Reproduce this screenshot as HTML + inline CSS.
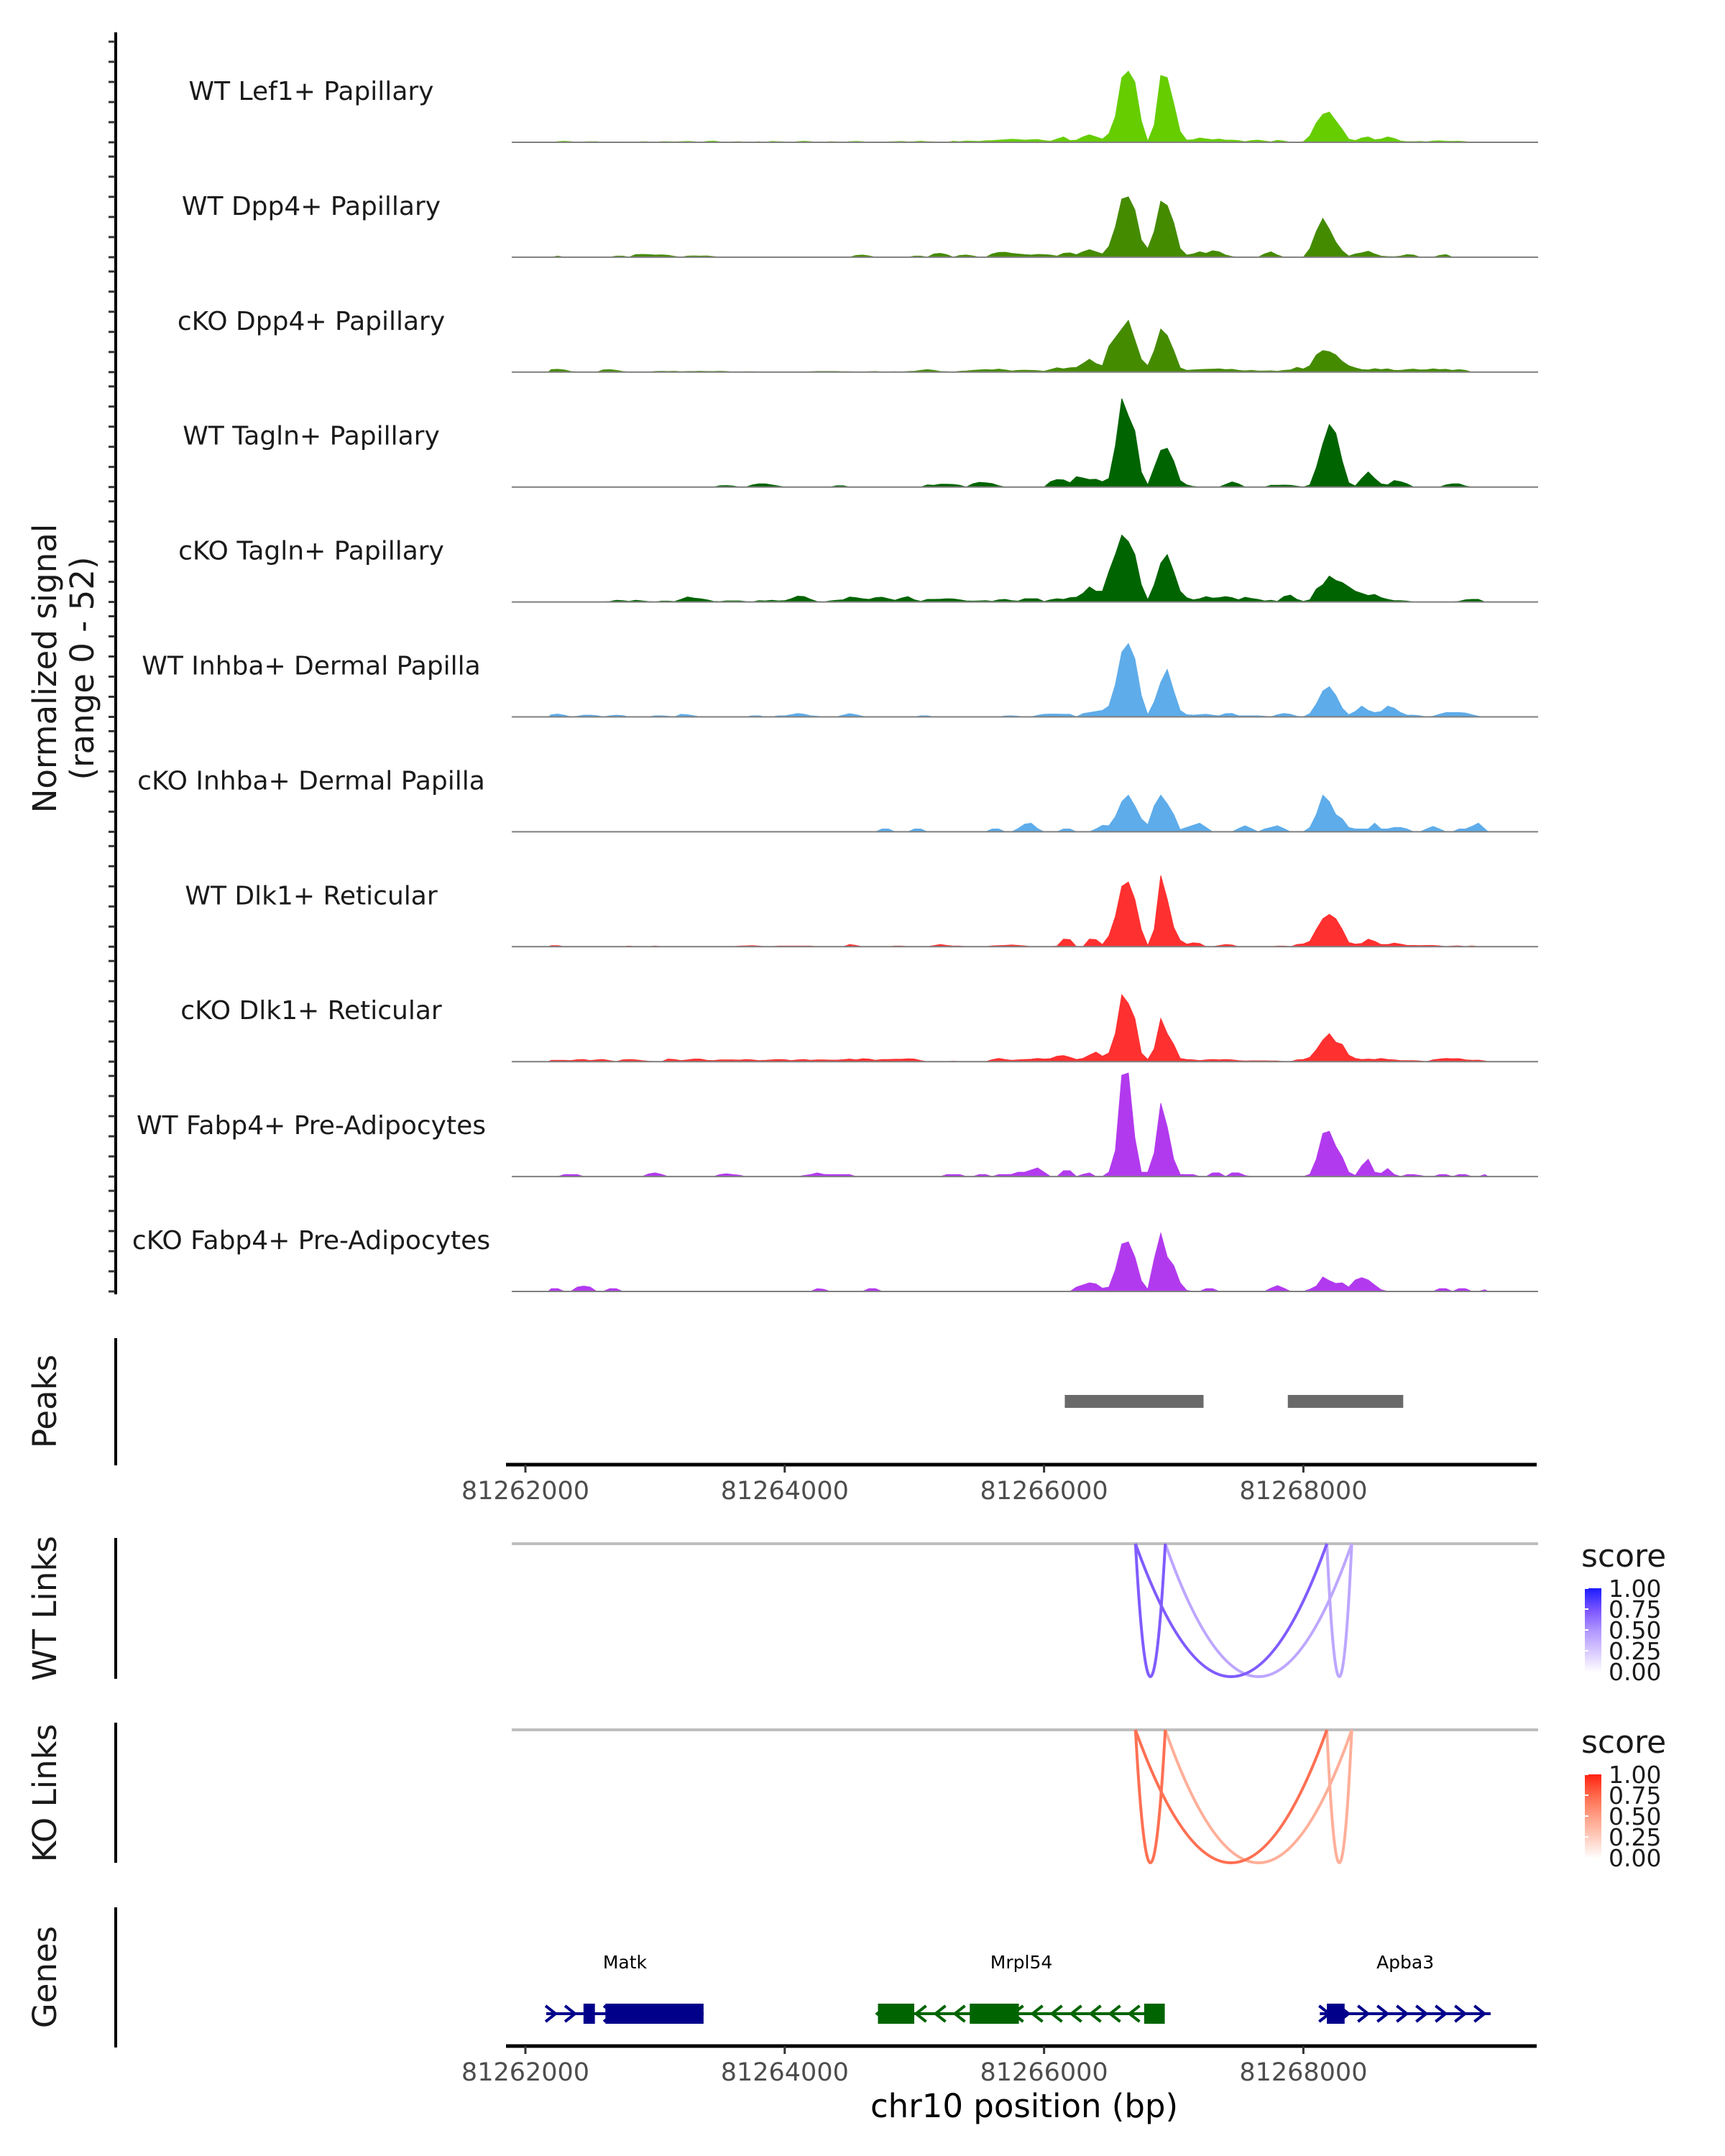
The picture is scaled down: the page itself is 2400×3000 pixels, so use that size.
<!DOCTYPE html>
<html><head><meta charset="utf-8"><style>
html,body{margin:0;padding:0;background:#fff;}
svg{display:block;font-family:"DejaVu Sans","Liberation Sans",sans-serif;}
</style></head><body>
<svg id="chart" width="2400" height="3000" viewBox="0 0 2400 3000" xmlns="http://www.w3.org/2000/svg">
<rect width="2400" height="3000" fill="#fff"/>
<g id="tracks"></g>
<g id="yaxis"></g>
<text font-size="45" text-anchor="middle" fill="#1a1a1a" transform="translate(78,930) rotate(-90)"><tspan x="0" dy="0">Normalized signal</tspan><tspan x="0" dy="52">(range 0 - 52)</tspan></text>
<g id="peaks"></g>
<g id="links"></g>
<g id="genes"></g>
</svg>
<script>
const NS="http://www.w3.org/2000/svg";
const trackNames=["WT Lef1+ Papillary","WT Dpp4+ Papillary","cKO Dpp4+ Papillary","WT Tagln+ Papillary","cKO Tagln+ Papillary","WT Inhba+ Dermal Papilla","cKO Inhba+ Dermal Papilla","WT Dlk1+ Reticular","cKO Dlk1+ Reticular","WT Fabp4+ Pre-Adipocytes","cKO Fabp4+ Pre-Adipocytes"];
const trackColors=["#66cd00","#458b00","#458b00","#006400","#006400","#5eacea","#5eacea","#ff3030","#ff3030","#b23aee","#b23aee"];
const binStart=81262200, binSize=50;
const sLef1WT=[0,0.3,0.5,0.3,0,0.2,0.3,0.3,0,0, 0,0,0.2,0,0.3,0.2,0,0.3,0.3,0.2, 0.3,0.4,0.3,0,0.4,0.6,0.2,0,0.2,0.3, 0,0,0.3,0,0.4,0.3,0.2,0,0.3,0.5, 0.3,0,0,0.3,0.2,0,0.3,0.4,0.3,0, 0,0,0.2,0.3,0.4,0.2,0.3,0.5,0.3,0.2, 0,0,0.5,0.3,0.6,0.5,0.4,0.7,0.8,1.0, 1.2,1.4,1.3,1.0,1.2,1.3,0.8,0.5,1.5,2.5, 0.8,1.0,2.5,3.5,2.5,1.5,4,12,30,33, 28,10,0.5,8,31,30,18,5,1,1.2, 2,1.6,1.2,1.5,1,1,0.8,0.3,0.8,1, 0.6,0.2,0.9,0.6,0,0,0.3,3,9,13, 14,10,6,1.5,0.8,2,2.5,1.2,1.5,2.5, 1.8,0.6,0.3,0.3,0.4,0.2,0.6,0.7,0.5,0.4, 0.5,0.3,0,0,0];
const sDpp4WT=[0,0.5,0,0,0,0,0,0,0,0, 0.5,0.5,0,1.2,1.3,1.2,1.0,1.1,0.9,0.4, 0,0.5,0.6,0.5,0.6,0.3,0,0,0,0, 0,0,0,0,0,0,0,0,0,0, 0,0,0,0,0,0,0,0.8,1.0,0.6, 0,0,0,0,0,0,0.5,0.5,0,1.5, 1.8,1.2,0,0.8,1.0,0.6,0,0,1.5,2.2, 2.3,1.8,1.5,1.2,1.0,1.3,1.2,1.0,0.5,1.8, 2.0,1.2,2.5,3.5,2.5,1.5,5,14,27,28, 22,8,4,12,26,24,16,4,1,1.5, 2.5,1.8,3,2.5,1,0.3,0,0,0,0, 1.5,2.5,1,0,0,0,0,4,12,18, 13,7,3,0.5,1.5,2,2.8,1.5,0.5,0.3, 0.2,0.5,1.2,1.0,0,0,0,0.8,1.2,0, 0,0,0,0,0];
const sDpp4KO=[1.2,1.3,1.0,0.3,0,0,0,0,1.0,1.2, 0.8,0.3,0,0,0,0,0.3,0.4,0.3,0.4, 0.2,0.3,0.3,0.4,0.3,0.3,0.4,0.3,0,0, 0.2,0.2,0,0,0,0,0,0,0,0, 0.2,0.3,0.3,0.3,0.3,0.2,0.2,0,0,0.2, 0.3,0,0,0.2,0,0.3,0.4,0.8,1.2,0.8, 0.3,0.2,0,0.4,0.5,0.8,1.0,1.2,1.0,1.4, 1.0,0.5,0.8,0.9,0.8,0.7,0.4,1.2,2.0,1.5, 2.0,2.2,4,6,4,3,12,16,20,24, 15,6,3,10,20,17,10,2,0.8,1.0, 1.2,1.3,1.4,1.5,1.2,1.3,0.8,0.6,0.8,0.5, 0.5,0.6,0.4,0.8,1.0,2.2,1.5,3,8,10, 9.5,8,5,3,2,1.2,1.0,1.6,1.2,1.5, 0.8,0.8,1.2,1.4,1.0,1.1,1.5,1.2,1.3,0.8, 1.2,0.8,0,0,0];
const sTaglnWT=[0,0,0,0,0,0,0,0,0,0, 0,0,0,0,0,0,0,0,0,0, 0,0,0,0,0,0,0.6,0.7,0.5,0, 0,1.0,1.5,1.5,1.0,0.5,0,0,0,0, 0,0,0,0,0.6,0.6,0,0,0,0, 0,0,0,0,0,0,0,0,1.0,0.8, 1.3,1.3,1.2,0.8,0,1.5,2.2,2.0,1.6,0.6, 0,0,0,0,0,0,0,2.5,3.5,3.3, 2.0,4.8,4.2,3.5,3.6,2.5,4,19,41,33, 26,7,1,9,17,18,12,3,1,0.3, 0,0,0,0,1.2,2.4,1.5,0,0,0, 0,0.8,0.8,0.9,0.8,0.4,0,1,9,20, 29,25,12,2,0.5,4,7,4,1.5,1.0, 3,2.5,1.5,0,0,0,0,0,1.0,1.5, 1.5,0.5,0,0,0];
const sTaglnKO=[0,0,0,0,0,0,0,0,0,0.2, 0.8,0.6,0.3,0.8,0.5,0.2,0,0.4,0.4,0.2, 1.2,2.3,1.8,1.5,1.0,0.3,0.2,0.5,0.5,0.5, 0.2,0,0.6,0.5,0.8,0.5,0.6,1.5,2.7,2.5, 1.2,0.2,0,0.5,0.8,1.0,2.3,2.0,1.5,1.2, 2.0,2.2,1.5,0.8,1.8,2.5,1.0,0.3,1.2,1.2, 1.3,1.5,1.4,1.0,0.5,0.4,0.5,0.6,0.3,1.0, 1.2,0.6,0.4,1.5,1.5,1.5,0.2,1.0,1.5,1.2, 2.0,2.2,4,7,5,5,14,22,31,28, 22,8,1,8,18,22,14,5,2,1, 1.5,2.5,1.8,2,2.5,2,1,2.2,1.6,1.2, 0.5,0.8,0.3,2.5,3.2,1.2,0.3,1,6,8, 12,10,9,7,5,4,3,3.5,2,1.2, 0.6,0.6,0.4,0,0,0,0,0,0,0, 0.3,1.0,1.2,1.2,0];
const sInhbaWT=[1.0,1.3,0.8,0,0.3,0.8,0.8,0.6,0,0.5, 0.8,0.6,0,0,0,0,0.5,0.5,0.3,0, 1.2,1.0,0.5,0,0,0,0,0,0,0, 0,0.5,0.5,0,0,0.5,0.5,1.0,1.6,1.2, 0.5,0.3,0,0,0,0.8,1.5,1.0,0.3,0, 0,0,0,0,0,0,0,0.5,0.5,0, 0,0,0,0,0,0,0,0,0,0, 0.4,0.5,0.3,0,0,0.7,1.2,1.3,1.3,1.2, 1.2,0,1.5,2.0,2.5,3,5,15,30,34, 27,10,1,7,16,22,12,3,1,0.8, 1.0,1.2,0.8,0.5,1.5,1.6,0.5,0.5,0.5,0.5, 0.3,0,1.0,1.6,1.2,0.3,0,1.5,6,12, 14,10,4,1,2.5,5,3,2,2.5,5, 4,2,0.8,0.8,0.5,0,0.3,1.2,2,2, 2,1.8,1.0,0.3,0];
const sInhbaKO=[0,0,0,0,0,0,0,0,0,0, 0,0,0,0,0,0,0,0,0,0, 0,0,0,0,0,0,0,0,0,0, 0,0,0,0,0,0,0,0,0,0, 0,0,0,0,0,0,0,0,0,0, 0,1.3,1.3,0,0,0,1.3,1.3,0,0, 0,0,0,0,0,0,0,0,1.3,1.3, 0,0,1.5,3.5,4,1.5,0,0,0,1.3, 1.3,0,0,0,1.3,3,2.8,7,14,17, 12,6,3.3,12,17,13,8,1,2,3, 4,2,0,0,0,0,1.5,2.8,1.5,0, 1.3,2.0,2.8,1.5,0,0,0,2,8,17, 14,8,6,2,1.3,1.3,1.3,4,1.3,1.3, 2.0,2.0,1.3,0,0,1.3,2.5,1.3,0,0, 1.3,1.3,2.5,4,1.3];
const sDlk1WT=[0.5,0.5,0,0,0,0,0,0,0,0, 0,0,0.3,0,0,0,0.3,0,0,0, 0,0,0,0,0,0,0,0,0,0.3, 0.4,0.5,0.3,0,0,0.3,0.3,0.3,0.3,0.3, 0.3,0,0,0,0,0,1.0,0.6,0,0, 0,0,0,0.3,0.3,0,0,0,0,0.5, 1.0,0.6,0.3,0.3,0,0,0,0,0.4,0.5, 0.6,0.8,0.6,0.4,0,0,0,0,0.3,3.5, 3.3,0,0,3.5,3.3,1,5,14,28,30, 22,8,0.5,8,33,22,9,3,1.2,1.8, 1.5,0,0,0.5,1.0,0.8,0,0,0,0, 0,0,0.3,0.3,0,1.0,1.3,2.5,8,13, 15,13,8,2,1.2,1.5,3.5,2.5,1.0,1.0, 1.7,1.2,0.6,0.6,0.5,0.6,0.6,0.4,0,0.3, 0.4,0,0.4,0,0];
const sDlk1KO=[0.6,0.6,0.6,0.5,0.9,1.0,0.5,0.8,1.0,0.5, 0,0.8,1.0,0.8,0.5,0.2,0,0,1.2,1.0, 0.5,0.8,1.2,1.2,0.6,0.5,0.8,0.8,0.8,0.7, 1.0,0.8,0.5,0.6,0.8,1.0,0.9,0.5,0.8,1.0, 0.6,0.8,0.8,0.7,0.7,0.9,1.2,0.8,1.3,1.2, 0.6,1.0,1.0,1.1,1.1,1.3,1.2,0.5,0,0, 0,0,0.2,0,0,0,0,0,0.9,1.5, 1.0,0.6,0.8,1.0,1.1,1.5,1.2,1.4,2.5,2.8, 2.0,1.0,1.5,3,4.4,2.5,4,13,31,27, 20,4,1,6,20,13,8,1.5,1,0.8, 0.5,0.8,1.0,0.8,1.0,0.8,0.5,0.3,0.4,0.4, 0.4,0.3,0.3,0,0,0.8,1.0,2,5.5,10, 13,9,8,3,1.5,1.0,1.2,1.0,1.5,1.0, 0.8,0.5,0.5,0.5,0.3,0,0.8,1.2,1.5,1.3, 1.4,0.8,0.6,0.7,0.3];
const sFabp4WT=[0,0,0.9,0.9,0.9,0,0,0,0,0, 0,0,0,0,0,1.2,1.7,1.0,0,0, 0,0,0,0,0,0,0.9,1.3,0.9,0.6, 0,0,0,0,0,0,0,0,0,0.5, 0.9,1.7,1.0,0.9,0.9,0.9,0.9,0,0,0, 0,0,0,0,0,0,0,0,0,0, 0,0.9,0.9,0.9,0,0,0.9,0.9,0,0.9, 0.9,1.0,2.0,2.0,3.0,4.0,2.0,0,0,2.7, 2.7,0,1.0,1.7,0,0,2,12,47,48, 18,2,2,11,34,23,8,1,0.9,0.9, 0,0,1.7,1.7,0,1.7,1.7,0.5,0,0, 0,0,0,0,0,0,0,1,8,20, 21,14,9,2,0.5,5,8,2,1.5,3.7, 1,0,0.9,0.9,0.5,0,0,0.9,0.9,0, 0.9,0.9,0,0,0.9];
const sFabp4KO=[1.3,1.3,0,0,2.0,2.5,2.0,0,0,1.3, 1.3,0,0,0,0,0,0,0,0,0, 0,0,0,0,0,0,0,0,0,0, 0,0,0,0,0,0,0,0,0,0, 0,1.3,1.0,0,0,0,0,0,0,1.3, 1.3,0,0,0,0,0,0,0,0,0, 0,0,0,0,0,0,0,0,0,0, 0,0,0,0,0,0,0,0,0,0, 0,2,3,4,3.5,1.5,2,10,22,23, 16,5,1,15,27,16,12,4,0.5,0, 0,1.3,1.3,0,0,0,0,0,0,0, 0,1.5,2.7,1.5,0,0,0,1,2.5,6.7, 5,3.7,4,2,5.3,6.4,5.3,3,0.8,0, 0,0,0,0,0,0,0,1.3,1.3,0, 1.3,1.3,0,0,0.8];
const trackSeries=[sLef1WT,sDpp4WT,sDpp4KO,sTaglnWT,sTaglnKO,sInhbaWT,sInhbaKO,sDlk1WT,sDlk1KO,sFabp4WT,sFabp4KO];
const signalMax=52;
const peakStarts=[81266160,81267880];
const peakEnds=[81267230,81268770];
const xTicks=[81262000,81264000,81266000,81268000];
const linkStarts=[81266705,81266705,81266935,81268181];
const linkEnds=[81266935,81268181,81268373,81268373];
const linkScoresWT=[0.72,0.72,0.42,0.42];
const linkScoresKO=[0.72,0.72,0.42,0.42];
const legendTicks=["1.00","0.75","0.50","0.25","0.00"];
const geneNames=["Matk","Mrpl54","Apba3"];
const geneStarts=[81262161,81264719,81268127];
const geneEnds=[81263374,81266931,81269444];
const geneStrands=[1,-1,1];
const geneColors=["#00008b","#006400","#00008b"];
const exonStarts=[[81262448,81262617],[81264719,81265427,81266772],[81268181]];
const exonEnds=[[81262536,81263374],[81264999,81265806,81266931],[81268318]];

const X0=731, PXBP=0.1804;
function xs(bp){return X0+(bp-81262000)*PXBP;}
const base0=198, trackGap=159.9, trackH=156;
function ys(v,t){return base0+trackGap*t - v/signalMax*trackH;}
function mk(tag,attrs,parent){const e=document.createElementNS(NS,tag);for(const k in attrs)e.setAttribute(k,attrs[k]);parent.appendChild(e);return e;}

const gT=document.getElementById('tracks');
trackSeries.forEach((ser,t)=>{
  const b=base0+trackGap*t;
  const lbl=mk('text',{x:433,y:b-59,'font-size':36,'text-anchor':'middle',fill:'#1a1a1a'},gT);
  
  
  lbl.textContent=trackNames[t];
  let d='M'+xs(binStart-binSize/2).toFixed(1)+','+b;
  ser.forEach((v,i)=>{d+=' L'+xs(binStart+i*binSize).toFixed(1)+','+ys(v,t).toFixed(1);});
  d+=' L'+xs(binStart+(ser.length-0.5)*binSize).toFixed(1)+','+b+' Z';
  const p=mk('path',{d:d,fill:trackColors[t],stroke:trackColors[t],'stroke-width':1},gT);
  
  
  const bl=mk('line',{x1:712,x2:2140,y1:b,y2:b,stroke:'#7f7f7f','stroke-width':2},gT);
  
  
});
const gY=document.getElementById('yaxis');
const ya=mk('line',{x1:161,x2:161,y1:45,y2:1801,stroke:'#000','stroke-width':4},gY);


for(let t=0;t<11;t++){for(let k=0;k<6;k++){const y=base0+trackGap*t-28*k;
  const tk=mk('line',{x1:151,x2:160,y1:y,y2:y,stroke:'#333','stroke-width':3},gY);
  
  }}
function sideTitle(txt,y,name){const e=mk('text',{'font-size':45,'text-anchor':'middle',fill:'#1a1a1a',transform:'translate(78,'+y+') rotate(-90)'},document.getElementById('chart'));
  
  
  e.textContent=txt;}
function vline(y1,y2,parent,name){const l=mk('line',{x1:161,x2:161,y1:y1,y2:y2,stroke:'#000','stroke-width':4},parent);
  
  }
function xAxis(y,parent,name){const a=mk('line',{x1:704,x2:2138,y1:y,y2:y,stroke:'#000','stroke-width':5},parent);
  
  
  xTicks.forEach(v=>{const tk=mk('line',{x1:xs(v),x2:xs(v),y1:y,y2:y+11,stroke:'#333','stroke-width':3},parent);
    
    
    const tl=mk('text',{x:xs(v),y:y+48,'font-size':35,'text-anchor':'middle',fill:'#4d4d4d'},parent);
    
    
    tl.textContent=v;});}
const gP=document.getElementById('peaks');
vline(1862,2039,gP,'peaks-axis-line');
sideTitle('Peaks',1950,'peaks-title');
peakStarts.forEach((s,i)=>{const r=mk('rect',{x:xs(s),y:1941,width:xs(peakEnds[i])-xs(s),height:18,fill:'#6a6a6a'},gP);
  
  });
xAxis(2038,gP,'peaks-x-axis');
const gL=document.getElementById('links');
function colWT(s){const a=[[255,255,255],[216,202,255],[176,150,255],[122,84,255],[30,30,255]];return interp(a,s);}
function colKO(s){const a=[[255,255,255],[255,206,192],[255,160,135],[255,106,76],[255,36,20]];return interp(a,s);}
function interp(a,s){const f=s*4,i=Math.min(3,Math.floor(f)),u=f-i;const c=a[i].map((v,k)=>Math.round(v+(a[i+1][k]-v)*u));return 'rgb('+c.join(',')+')';}
function linkPanel(top,bot,scores,colf,label,labelY,axisY1,axisY2,name){
  vline(axisY1,axisY2,gL,name+'-axis-line');
  sideTitle(label,labelY,name+'-title');
  const gl=mk('line',{x1:712,x2:2140,y1:top,y2:top,stroke:'#bebebe','stroke-width':4},gL);
  
  
  const order=scores.map((s,i)=>i).sort((a,b)=>scores[a]-scores[b]);
  order.forEach(i=>{const x1=xs(linkStarts[i]),x2=xs(linkEnds[i]);
    const cy=top+2*(bot-top);
    const p=mk('path',{d:`M${x1},${top} Q${(x1+x2)/2},${cy} ${x2},${top}`,fill:'none',stroke:colf(scores[i]),'stroke-width':4},gL);
    
    });
  const lt=mk('text',{x:2200,y:top+32,'font-size':44,fill:'#1a1a1a'},gL);
  
  
  lt.textContent='score';
  const by1=top+62,by2=top+178;
  for(let j=0;j<58;j++){const s=1-j/58;const r=mk('rect',{x:2205,y:by1+j*(by2-by1)/58,width:23,height:(by2-by1)/58+0.6,fill:colf(s)},gL);
    
    }
  legendTicks.forEach((t,j)=>{const y=by1+j*(by2-by1)/4;
    const tk=mk('line',{x1:2205,x2:2210,y1:y,y2:y,stroke:'#fff','stroke-width':2},gL);
    
    
    const tx=mk('text',{x:2238,y:y+12,'font-size':33,fill:'#1a1a1a'},gL);
    
    
    tx.textContent=t;});
}
linkPanel(2148,2333,linkScoresWT,colWT,'WT Links',2238,2140,2336,'wt-links');
linkPanel(2407,2592,linkScoresKO,colKO,'KO Links',2495,2397,2592,'ko-links');
const gG=document.getElementById('genes');
vline(2654,2849,gG,'genes-axis-line');
sideTitle('Genes',2751,'genes-title');
const gy=2802;
geneNames.forEach((n,g)=>{const x1=xs(geneStarts[g]),x2=xs(geneEnds[g]);
  const ln=mk('line',{x1:x1,x2:x2,y1:gy,y2:gy,stroke:geneColors[g],'stroke-width':4},gG);
  
  
  for(let x=x1+6;x<x2-4;x+=27){const dx=7*geneStrands[g];
    const c=mk('polyline',{points:`${x-dx},${gy-11} ${x+dx},${gy} ${x-dx},${gy+11}`,fill:'none',stroke:geneColors[g],'stroke-width':4},gG);
    
    }
  exonStarts[g].forEach((s,e)=>{const r=mk('rect',{x:xs(s),y:gy-14,width:xs(exonEnds[g][e])-xs(s),height:28,fill:geneColors[g]},gG);
    
    });
  const t=mk('text',{x:(x1+x2)/2,y:2739,'font-size':25,'text-anchor':'middle',fill:'#000'},gG);
  
  
  t.textContent=n;
});
xAxis(2847,gG,'genes-x-axis');
const xt=mk('text',{x:1425,y:2946,'font-size':45,'text-anchor':'middle',fill:'#000'},gG);


xt.textContent='chr10 position (bp)';
</script>
</body></html>
